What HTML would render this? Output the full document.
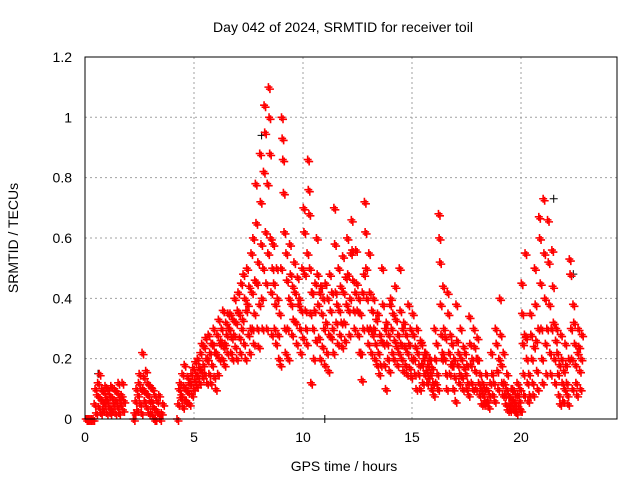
<!DOCTYPE html>
<html><head><meta charset="utf-8"><style>
body{margin:0;background:#fff;}
svg{display:block;font-family:"Liberation Sans",sans-serif;}
</style></head><body>
<svg id="chart" width="640" height="480">
<text x="343" y="32" font-size="14" text-anchor="middle">Day 042 of 2024, SRMTID for receiver toil</text>
<text x="344" y="471" font-size="14" text-anchor="middle">GPS time / hours</text>
<text x="18" y="238" font-size="14" text-anchor="middle" transform="rotate(-90 18 238)">SRMTID / TECUs</text>
<g id="grid"></g><g id="ticks"></g><g id="marks"></g>
<rect x="85" y="57" width="532" height="362" fill="none" stroke="#000" stroke-width="1"/>
</svg>
<script>
const xTicks=[0,5,10,15,20];
const yTicks=[0,0.2,0.4,0.6,0.8,1,1.2];
const yTickLabels=["0","0.2","0.4","0.6","0.8","1","1.2"];
const redTimes=[0,0.2,0.4,0.6,0.8,1.0,1.2,1.4,1.6,2.2,2.4,2.6,2.8,3.0,3.2,3.4,4.2,4.4,4.6,4.8,5.0,5.2,5.4,5.6,5.8,6.0,6.2,6.4,6.6,6.8,7.0,7.2,7.4,7.6,7.8,8.0,8.2,8.4,8.6,8.8,9.0,9.2,9.4,9.6,9.8,10.0,10.2,10.4,10.6,10.8,11.0,11.2,11.4,11.6,11.8,12.0,12.2,12.4,12.6,12.8,13.0,13.2,13.4,13.6,13.8,14.0,14.2,14.4,14.6,14.8,15.0,15.2,15.4,15.6,15.8,16.0,16.2,16.4,16.6,16.8,17.0,17.2,17.4,17.6,17.8,18.0,18.2,18.4,18.6,18.8,19.0,19.2,19.4,19.6,19.8,20.0,20.2,20.4,20.6,20.8,21.0,21.2,21.4,21.6,21.8,22.0,22.2,22.4,22.6];
const redValues=[
[0,0,0],[0,0,0],[0.05,0.1,0.02,0.08,0.12],[0.04,0.15,0.07,0.02,0.1,0.06],[0.03,0.09,0.05,0.11,0.07,0.02],[0.06,0.1,0.04,0.08,0.02,0.11],[0.03,0.07,0.05,0.1,0.02],[0.06,0.09,0.04,0.12,0.02,0.07],[0.05,0.08,0.12,0.03,0.06],
[0,0.02,0.06,0.1,0.03],[0.08,0.12,0.15,0.05,0.1,0.02],[0.22,0.1,0.14,0.06,0.09,0.16],[0.04,0.12,0.08,0.02,0.06,0.11],[0.02,0.06,0.1,0.04,0.0,0.08],[0.0,0.03,0.06,0.02,0.08],[0.0,0.02,0.05],
[0.0,0.05,0.1,0.12,0.07],[0.08,0.15,0.04,0.11,0.18,0.06],[0.1,0.06,0.14,0.09,0.12,0.05],[0.12,0.15,0.08,0.17,0.1],[0.13,0.19,0.15,0.11,0.2,0.14],[0.17,0.12,0.22,0.16,0.25,0.14],[0.18,0.24,0.15,0.27,0.2,0.12],[0.2,0.28,0.15,0.22,0.12,0.25],[0.18,0.25,0.3,0.14,0.22,0.1],
[0.22,0.28,0.15,0.33,0.2,0.25],[0.26,0.3,0.2,0.36,0.24,0.18],[0.25,0.32,0.28,0.22,0.35,0.3],[0.3,0.35,0.22,0.27,0.2,0.33],[0.28,0.4,0.24,0.32,0.2,0.36],[0.42,0.35,0.27,0.22,0.45,0.3],[0.33,0.48,0.25,0.4,0.2,0.36],[0.5,0.38,0.28,0.44,0.22,0.3],[0.55,0.42,0.3,0.6,0.25,0.35,0.46],[0.78,0.65,0.45,0.3,0.52,0.24,0.38],
[0.88,0.72,0.58,0.4,0.3,0.5,0.82],[1.04,0.95,0.62,0.45,0.3,0.78,0.55],[1.1,1.0,0.88,0.6,0.42,0.28,0.5],[0.58,0.45,0.3,0.38,0.25,0.5],[0.4,0.28,0.2,0.35,0.18,0.5],[1.0,0.93,0.86,0.75,0.62,0.3,0.22],[0.55,0.46,0.3,0.2,0.4,0.58],[0.48,0.38,0.28,0.44,0.33,0.52],[0.42,0.32,0.25,0.47,0.38],[0.4,0.3,0.22,0.36,0.5,0.27],
[0.7,0.62,0.48,0.36,0.3,0.25,0.55],[0.86,0.76,0.68,0.5,0.35,0.12,0.42],[0.42,0.3,0.2,0.36,0.45,0.26],[0.6,0.48,0.38,0.27,0.42,0.2],[0.44,0.35,0.24,0.4,0.3,0.18],[0.45,0.32,0.22,0.4,0.16,0.28],[0.48,0.36,0.27,0.42,0.3,0.22],[0.7,0.58,0.42,0.32,0.38,0.25],[0.5,0.36,0.28,0.44,0.32,0.24],[0.54,0.42,0.32,0.26,0.47,0.38],
[0.6,0.48,0.36,0.28,0.4,0.55],[0.66,0.56,0.46,0.36,0.3,0.42],[0.56,0.45,0.36,0.28,0.4,0.22],[0.35,0.22,0.13,0.42,0.3,0.48],[0.72,0.62,0.5,0.4,0.3,0.25],[0.55,0.42,0.3,0.22,0.36,0.28],[0.4,0.3,0.2,0.25,0.33,0.18],[0.35,0.22,0.15,0.28,0.18,0.26],[0.5,0.38,0.25,0.18,0.3,0.1],[0.32,0.25,0.2,0.28,0.16,0.38],
[0.4,0.3,0.22,0.35,0.2,0.26],[0.44,0.33,0.24,0.18,0.28,0.22],[0.5,0.36,0.25,0.2,0.3,0.16],[0.32,0.24,0.18,0.28,0.15,0.22],[0.38,0.25,0.17,0.3,0.14,0.2],[0.35,0.28,0.2,0.15,0.24,0.1],[0.3,0.22,0.15,0.18,0.1,0.26],[0.25,0.18,0.12,0.2,0.15,0.22],[0.22,0.16,0.12,0.18,0.14,0.2],[0.2,0.15,0.1,0.17,0.12,0.08],
[0.3,0.2,0.12,0.25,0.15,0.1],[0.68,0.6,0.52,0.38,0.28,0.2,0.22],[0.44,0.3,0.2,0.27,0.15,0.1],[0.42,0.35,0.22,0.15,0.28,0.18],[0.25,0.18,0.1,0.2,0.14,0.06],[0.38,0.26,0.18,0.22,0.12,0.15],[0.3,0.2,0.14,0.1,0.24,0.17],[0.22,0.15,0.1,0.18,0.12,0.08],[0.34,0.25,0.18,0.12,0.2,0.1],[0.3,0.24,0.16,0.1,0.2,0.27],
[0.2,0.12,0.08,0.15,0.1,0.05],[0.12,0.08,0.05,0.1,0.06,0.15],[0.1,0.06,0.04,0.08,0.12],[0.22,0.15,0.08,0.12,0.06],[0.3,0.25,0.16,0.1,0.2],[0.4,0.28,0.18,0.12,0.08,0.22],[0.12,0.08,0.05,0.1,0.15,0.03],[0.08,0.05,0.03,0.07,0.1,0.04],[0.1,0.06,0.03,0.05,0.08,0.02],[0.12,0.08,0.04,0.06,0.1,0.03],
[0.45,0.35,0.25,0.15,0.08,0.28,0.55],[0.27,0.2,0.12,0.06,0.15,0.08],[0.35,0.28,0.2,0.12,0.08,0.24],[0.5,0.38,0.26,0.16,0.1,0.3],[0.67,0.6,0.45,0.3,0.2,0.12],[0.73,0.55,0.4,0.25,0.15,0.3],[0.66,0.52,0.38,0.22,0.15,0.3],[0.56,0.44,0.32,0.2,0.12,0.26],[0.3,0.22,0.15,0.08,0.18,0.05],[0.28,0.2,0.12,0.06,0.16,0.1],
[0.25,0.18,0.12,0.08,0.05,0.2],[0.53,0.48,0.3,0.2,0.1,0.38],[0.32,0.25,0.18,0.12,0.08,0.22],[0.3,0.24,0.16,0.1,0.2,0.28]
];
const blackTimes=[0.6,8.1,11.0,21.5,22.4];
const blackValues=[0.15,0.94,0.0,0.73,0.48];
const svg=document.getElementById('chart');
const NS='http://www.w3.org/2000/svg';
const X=t=>85+t*21.8;
const Y=v=>419-v*301.7;
const grid=document.getElementById('grid'),ticks=document.getElementById('ticks'),marks=document.getElementById('marks');
function mk(tag,attrs,parent){const e=document.createElementNS(NS,tag);for(const k in attrs)e.setAttribute(k,attrs[k]);parent.appendChild(e);return e;}
xTicks.forEach(t=>{
  if(t>0){const g=mk('line',{x1:X(t),x2:X(t),y1:57,y2:419,stroke:'#a0a0a0','stroke-dasharray':'2,3'},grid);
  
  }
  const tx=mk('text',{x:X(t),y:442,'font-size':14,'text-anchor':'middle'},ticks);tx.textContent=t;
  
  
});
yTicks.forEach((v,i)=>{
  if(v>0&&v<1.2){const g=mk('line',{x1:85,x2:617,y1:Y(v),y2:Y(v),stroke:'#a0a0a0','stroke-dasharray':'2,3'},grid);
  
  }
  const tx=mk('text',{x:72,y:Y(v)+5,'font-size':14,'text-anchor':'end'},ticks);tx.textContent=yTickLabels[i];
  
  
});
function plus(x,y,color,name,w){
  const p=mk('path',{d:`M${x-4},${y}h8M${x},${y-4}v8`,stroke:color,'stroke-width':w,fill:'none'},marks);
  
  
}
blackTimes.forEach((t,i)=>plus(X(t),Y(blackValues[i]),'#000','black-point',1));
redTimes.forEach((t,i)=>{
  const vals=redValues[i];
  vals.forEach((v,j)=>{
    const tt=t+0.2*(j+0.5)/vals.length;
    plus(X(tt),Y(v),'#ff0000','red-point',1.6);
    plus(X(tt)+1.5,Y(v)+2,'#ff0000','red-point',1.6);
  });
});
</script>
</body></html>
